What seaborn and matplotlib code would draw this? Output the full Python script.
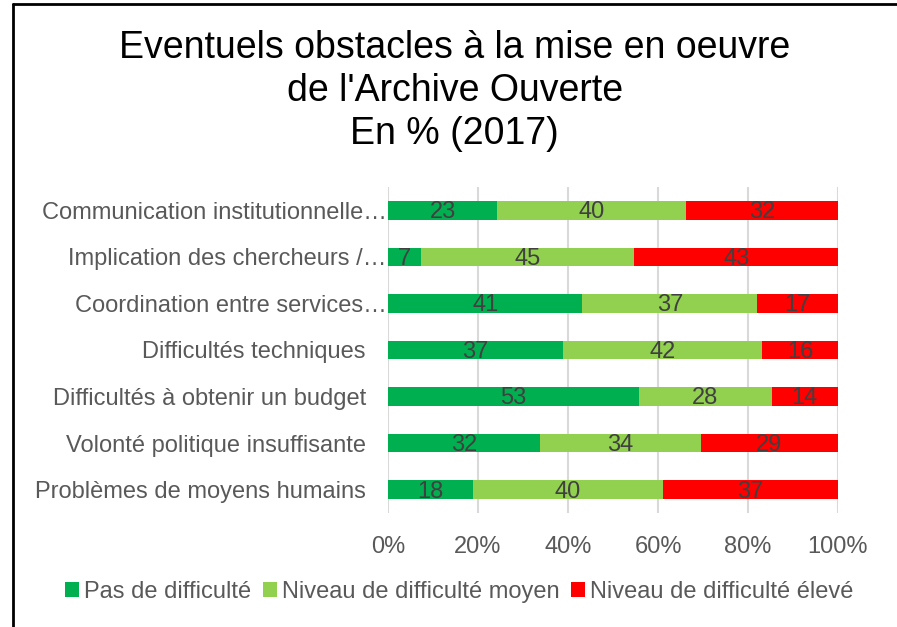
import matplotlib
matplotlib.use("Agg")
from matplotlib import pyplot as plt
from matplotlib.patches import Patch
from matplotlib.lines import Line2D
from matplotlib.transforms import ScaledTranslation
import seaborn as sns
import numpy as np
import pandas as pd

categories = [
    "Communication institutionnelle…",
    "Implication des chercheurs /…",
    "Coordination entre services…",
    "Difficultés techniques",
    "Difficultés à obtenir un budget",
    "Volonté politique insuffisante",
    "Problèmes de moyens humains",
]
pas_difficulte = [23, 7, 41, 37, 53, 32, 18]
difficulte_moyen = [40, 45, 37, 42, 28, 34, 40]
difficulte_eleve = [32, 43, 17, 16, 14, 29, 37]
series_names = ["Pas de difficulté", "Niveau de difficulté moyen", "Niveau de difficulté élevé"]
colors = ["#00B050", "#92D050", "#FF0000"]
title = "Eventuels obstacles à la mise en oeuvre\nde l'Archive Ouverte\nEn % (2017)"

sns.set_style("white")
plt.rcParams["font.family"] = ["Liberation Sans", "DejaVu Sans"]

df = pd.DataFrame({"cat": categories, "a": pas_difficulte, "b": difficulte_moyen, "c": difficulte_eleve})
total = df[["a", "b", "c"]].sum(axis=1)
for k in ["a", "b", "c"]:
    df["p" + k] = df[k] / total * 100
df["cum_a"] = df["pa"]
df["cum_b"] = df["pa"] + df["pb"]
df["cum_c"] = df["pa"] + df["pb"] + df["pc"]

fig = plt.figure(figsize=(8.97, 6.27), dpi=100)
ax = fig.add_axes([0.4326, 0.1818, 0.5016, 0.52])

# stacked bars: draw cumulative totals from the widest down
for col, color in zip(["cum_c", "cum_b", "cum_a"], colors[::-1]):
    sns.barplot(data=df, x=col, y="cat", color=color, width=0.4, ax=ax,
                saturation=1, orient="h", linewidth=0)

starts = {"a": np.zeros(len(df)), "b": df["pa"].values, "c": df["cum_b"].values}
for k in ["a", "b", "c"]:
    for i in range(len(df)):
        cx = starts[k][i] + df["p" + k].iloc[i] / 2
        ax.text(cx, i + 0.04, str(df[k].iloc[i]), ha="center", va="center",
                fontsize=17, color="#404040")

ax.set_xlim(0, 100)
ax.set_ylim(6.5, -0.5)
ax.set_xticks([0, 20, 40, 60, 80, 100])
ax.set_xticklabels([f"{v}%" for v in [0, 20, 40, 60, 80, 100]])
ax.xaxis.grid(True, color="#D9D9D9", linewidth=1.5)
ax.set_axisbelow(True)
for s in ax.spines.values():
    s.set_visible(False)
ax.set_xlabel("")
ax.set_ylabel("")
ax.tick_params(axis="x", pad=16.5, labelsize=17, labelcolor="#595959", length=0)
ax.tick_params(axis="y", pad=16, labelsize=17, labelcolor="#595959", length=0)
for lbl in ax.get_yticklabels():
    if lbl.get_text().endswith("…"):
        lbl.set_transform(lbl.get_transform() + ScaledTranslation(15 / 72, 0, fig.dpi_scale_trans))

fig.text(0.507, 0.952, title, ha="center", va="top", fontsize=27, color="#000000",
         linespacing=1.25)

handles = [Patch(facecolor=c, edgecolor="none") for c in colors]
fig.legend(handles, series_names, loc="center", bbox_to_anchor=(0.512, 0.056), ncol=3,
           frameon=False, fontsize=17, handlelength=0.6, handleheight=0.6,
           handletextpad=0.2, columnspacing=0.5, labelcolor="#595959")

fig.add_artist(Line2D([13 / 897, 13 / 897], [0, 1 - 4 / 627], color="black", linewidth=2,
                      transform=fig.transFigure))
fig.add_artist(Line2D([13 / 897, 1], [1 - 4 / 627, 1 - 4 / 627], color="black", linewidth=2,
                      transform=fig.transFigure))

fig.savefig("out.png", dpi=100)
